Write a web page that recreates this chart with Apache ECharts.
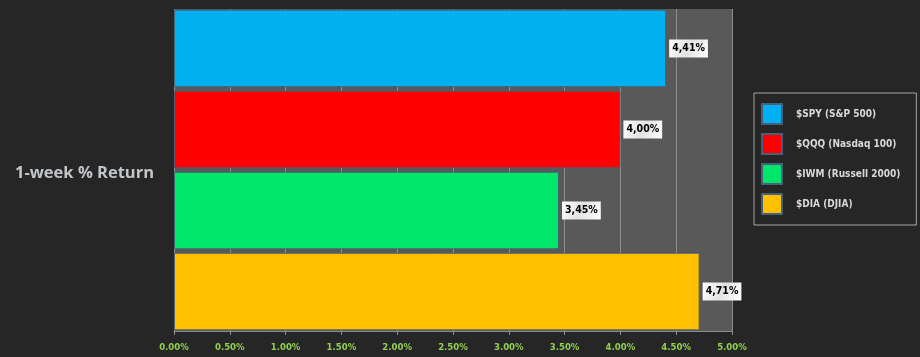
<!DOCTYPE html>
<html><head><meta charset="utf-8">
<script src="https://cdn.jsdelivr.net/npm/echarts@6/dist/echarts.min.js"></script>
<style>html,body{margin:0;padding:0;background:#262626;}#c{width:920px;height:357px;}</style>
</head><body><div id="c"></div>
<script>
const categories = ['1-week % Return'];
const seriesNames = ['$SPY (S&P 500)', '$QQQ (Nasdaq 100)', '$IWM (Russell 2000)', '$DIA (DJIA)'];
const seriesValues = [4.41, 4.00, 3.45, 4.71];
const seriesColors = ['#00B0F0', '#FF0000', '#00E66B', '#FFC000'];
const xTicks = [0, 0.5, 1, 1.5, 2, 2.5, 3, 3.5, 4, 4.5, 5];

const chart = echarts.init(document.getElementById('c'), null, {renderer: 'canvas'});
const font = 'DejaVu Sans Condensed';
const series = seriesNames.map((n, i) => ({
  name: n, type: 'bar', data: [seriesValues[i]],
  barGap: '4.5%', barCategoryGap: '0.4%',
  itemStyle: {color: seriesColors[i], borderColor: 'rgba(70,95,115,0.9)', borderWidth: 1},
  label: {
    show: true, position: 'right', distance: 3,
    formatter: p => p.value.toFixed(2).replace('.', ',') + '%',
    color: '#000', fontWeight: 'bold', fontSize: 10.5, fontFamily: font,
    backgroundColor: {type: 'linear', x: 0, y: 0, x2: 1, y2: 1, colorStops: [{offset: 0, color: '#ffffff'}, {offset: 0.5, color: '#e2e2e2'}, {offset: 1, color: '#ffffff'}]},
    padding: [4, 3, 3, 3]
  }
}));
chart.setOption({
  backgroundColor: '#262626',
  animation: false,
  title: {
    text: categories[0], left: 10, top: 160,
    textStyle: {color: '#c3c6c9', fontSize: 16.5, fontWeight: 'bold', fontFamily: 'Open Sans'}
  },
  legend: {
    orient: 'vertical', left: 754, top: 93,
    padding: [10, 16, 10, 7], itemGap: 8, itemWidth: 20, itemHeight: 20,
    borderColor: '#a6a6a6', borderWidth: 1,
    icon: 'rect',
    itemStyle: {borderColor: '#44607a', borderWidth: 2},
    textStyle: {color: '#d9d9d9', fontSize: 10, fontWeight: 'bold', fontFamily: font, padding: [0, 0, 0, 9], lineHeight: 14},
    data: seriesNames
  },
  grid: {left: 174, right: 188, top: 9, bottom: 26, show: true, backgroundColor: '#595959', borderWidth: 0},
  xAxis: [{
    type: 'value', min: xTicks[0], max: xTicks[xTicks.length - 1], interval: 0.5,
    axisLine: {show: true, lineStyle: {color: '#8c8c8c'}},
    axisTick: {show: true, length: 4, lineStyle: {color: '#8c8c8c'}},
    axisLabel: {color: '#92D050', fontSize: 9.5, fontWeight: 'bold', fontFamily: font, margin: 12,
      formatter: v => v.toFixed(2) + '%'},
    splitLine: {show: true, lineStyle: {color: '#8e8e8e', width: 1}}
  }, {
    type: 'value', position: 'top', min: xTicks[0], max: xTicks[xTicks.length - 1], interval: 0.5,
    axisLine: {show: false}, axisTick: {show: true, inside: true, length: 3, lineStyle: {color: '#8c8c8c'}},
    axisLabel: {show: false}, splitLine: {show: false}
  }],
  yAxis: {
    type: 'category', data: categories, inverse: true,
    axisLine: {show: false}, axisTick: {show: false}, axisLabel: {show: false}
  },
  series: series
});
</script></body></html>
